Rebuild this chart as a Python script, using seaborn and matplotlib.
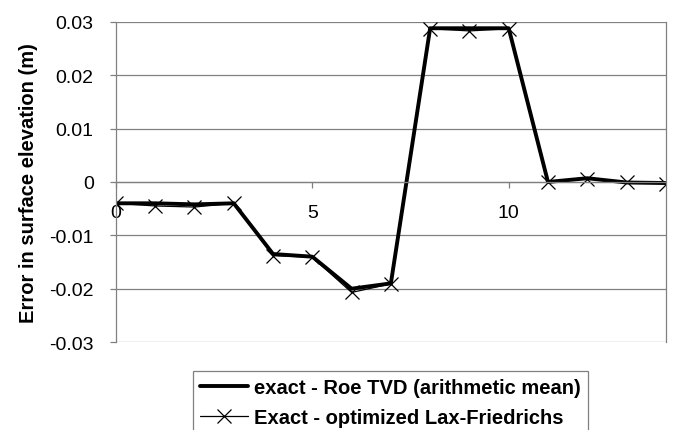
import numpy as np
import pandas as pd
import seaborn as sns
import matplotlib.pyplot as plt

# distance along channel (node index)
x_nodes = list(range(15))
# exact - Roe TVD (arithmetic mean)
err_roe = [-0.004, -0.004, -0.0042, -0.004, -0.0135, -0.014, -0.0200, -0.0190,
           0.0288, 0.0288, 0.0288, 0.0000, 0.0007, -0.0001, -0.0002]
# exact - optimized Lax-Friedrichs
err_lf = [-0.004, -0.0045, -0.0047, -0.004, -0.0138, -0.0141, -0.0207, -0.0191,
          0.0287, 0.0283, 0.0287, -0.0001, 0.0006, -0.0001, -0.0003]

lbl_roe = 'exact - Roe TVD (arithmetic mean)'
lbl_lf = 'Exact - optimized Lax-Friedrichs'
yticks = [-0.03, -0.02, -0.01, 0, 0.01, 0.02, 0.03]
ytick_labels = ['-0.03', '-0.02', '-0.01', '0', '0.01', '0.02', '0.03']
xticks = [0, 5, 10]

df = pd.DataFrame({'x': x_nodes, 'roe': err_roe, 'lf': err_lf})

sns.set_style('white')
plt.rcParams['font.family'] = ['Liberation Sans', 'DejaVu Sans']
plt.rcParams['text.color'] = 'black'
plt.rcParams['axes.labelcolor'] = 'black'
plt.rcParams['xtick.labelcolor'] = 'black'
plt.rcParams['ytick.labelcolor'] = 'black'

fig = plt.figure(figsize=(6.78, 4.31), dpi=100)
ax = fig.add_axes([0.171, 0.204, 0.811, 0.743])

sns.lineplot(data=df, x='x', y='roe', ax=ax, color='black', linewidth=2.8,
             label=lbl_roe)
sns.lineplot(data=df, x='x', y='lf', ax=ax, color='black', linewidth=0.9,
             marker='x', markersize=10, markeredgewidth=0.9,
             markeredgecolor='black', label=lbl_lf)

ax.set_xlim(0, 14)
ax.set_ylim(-0.03, 0.03)
ax.set_yticks(yticks)
ax.set_yticklabels(ytick_labels)
ax.set_xticks(xticks)
ax.grid(axis='y', color='#808080', linewidth=0.9)
ax.set_axisbelow(True)

for s in ['left', 'right', 'top', 'bottom']:
    ax.spines[s].set_color('#808080')
    ax.spines[s].set_linewidth(0.9)
ax.spines['top'].set_visible(False)
ax.spines['bottom'].set_position(('data', 0))

ax.tick_params(axis='y', direction='out', length=4, width=0.9, color='#808080',
               pad=12, labelsize=14, left=True)
ax.tick_params(axis='x', direction='out', length=4, width=0.9, color='#808080',
               pad=12, labelsize=14, bottom=True)

ax.set_xlabel('')
ax.set_ylabel('Error in surface elevation (m)', fontsize=14.5, fontweight='bold',
              labelpad=8)

ax.get_legend().remove()
h, l = ax.get_legend_handles_labels()
leg = fig.legend(h, l, loc='upper left', bbox_to_anchor=(193 / 678, 1 - 372 / 431),
                 frameon=True, fancybox=False, edgecolor='#606060',
                 prop={'size': 14.5, 'weight': 'bold'}, handlelength=2.4,
                 handletextpad=0.3, borderpad=0.35, labelspacing=0.55,
                 borderaxespad=0)
leg.get_frame().set_linewidth(0.9)

fig.savefig('out.png', dpi=100)
